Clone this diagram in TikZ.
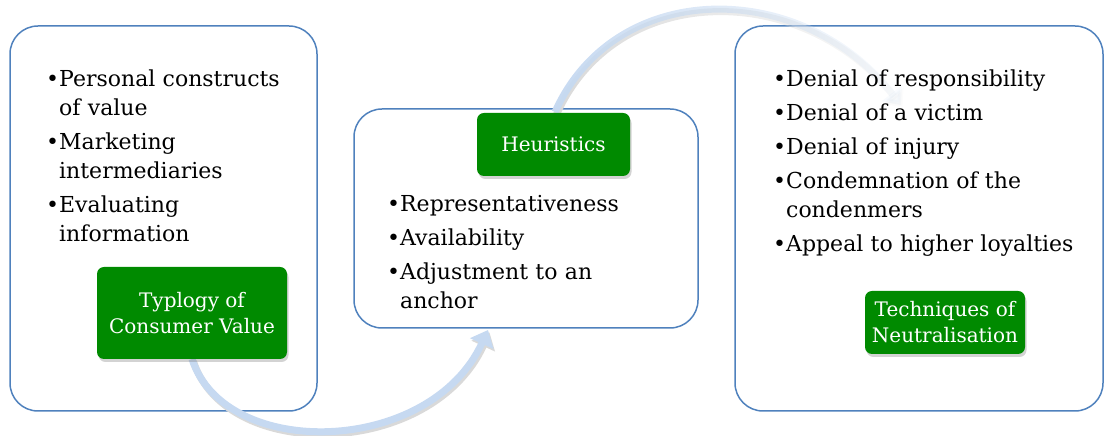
\documentclass[tikz,border=0pt]{standalone}
\usepackage{fontspec}
\setmainfont{DejaVu Serif}
\usetikzlibrary{
    arrows.meta,
    shadows,
    fadings,
    positioning
}
\definecolor{panelblue}{RGB}{79,129,189}
\definecolor{taggreen}{RGB}{0,138,0}
\definecolor{flowblue}{RGB}{198,217,241}
\newsavebox\bulbox
\newcommand\bitem[1]{\ifhmode\par\vskip5pt\fi\sbox\bulbox{•}\hangindent=\wd\bulbox\hangafter=1\noindent\usebox\bulbox#1}
\tikzfading[name=arcfade, left color=transparent!0, middle color=transparent!0, right color=transparent!100]

\begin{document}
\begin{tikzpicture}[x=1pt, y=1pt,
    panel/.style={draw=panelblue, line width=1.5pt, rounded corners=28pt},
    tag/.style={fill=taggreen, text=white, rounded corners=7pt, align=center,
        font=\fontsize{20}{26}\selectfont,
        drop shadow={shadow xshift=1.5pt, shadow yshift=-3pt, opacity=0.35}},
    bullets/.style={anchor=base west, inner sep=0pt, text width=340pt, align=left,
        font=\fontsize{22}{29}\selectfont},
    flow/.style={flowblue, line width=7pt, -{Triangle[length=15pt, width=25pt]}},
    flowshadow/.style={draw=black!15, line width=7pt, -{Triangle[length=15pt, width=25pt]}}]
    \useasboundingbox (0, 0) rectangle (1104, 436);
    \node[panel, minimum width=307pt, minimum height=385pt] (consumer) at (163.5, 217.5) {};
    \node[panel, minimum width=344pt, minimum height=219pt] (cues) at (526, 217.5) {};
    \node[panel, minimum width=368pt, minimum height=385pt] (excuses) at (919, 217.5) {};
    \coordinate (a1) at (488, 106);
    \coordinate (a2) at (901, 331);
    \draw[flowshadow, transform canvas={xshift=1.5pt, yshift=-2.5pt}] (192, 77) .. controls (225, -25) and (430, -20) .. (a1);
    \draw[flow] (192, 77) .. controls (225, -25) and (430, -20) .. (a1);
    \draw[flowshadow, path fading=arcfade, transform canvas={xshift=1.5pt, yshift=-2.5pt}] (929, 324) (555, 324) .. controls (615, 458) and (801, 458) .. (a2);
    \draw[flow, path fading=arcfade] (929, 324) (555, 324) .. controls (615, 458) and (801, 458) .. (a2);
    \node[tag, minimum width=190pt, minimum height=92pt] (typology) at (192, 123) {Typlogy of\\Consumer Value};
    \node[tag, minimum width=153pt, minimum height=63pt] (heur) at (553.5, 291.5) {Heuristics};
    \node[tag, minimum width=160pt, minimum height=63pt] (neutral) at (945, 113.5) {Techniques of\\Neutralisation};
    \node[bullets] (list1) at (46, 383) {\bitem{Personal constructs\newline of value}\bitem{Marketing\newline intermediaries}\bitem{Evaluating\newline information}\par};
    \node[bullets] (list2) at (387, 258) {\bitem{Representativeness}\bitem{Availability}\bitem{Adjustment to an\newline anchor}\par};
    \node[bullets] (list3) at (773, 383) {\bitem{Denial of responsibility}\bitem{Denial of a victim}\bitem{Denial of injury}\bitem{Condemnation of the\newline condenmers}\bitem{Appeal to higher loyalties}\par};
\end{tikzpicture}
\end{document}
